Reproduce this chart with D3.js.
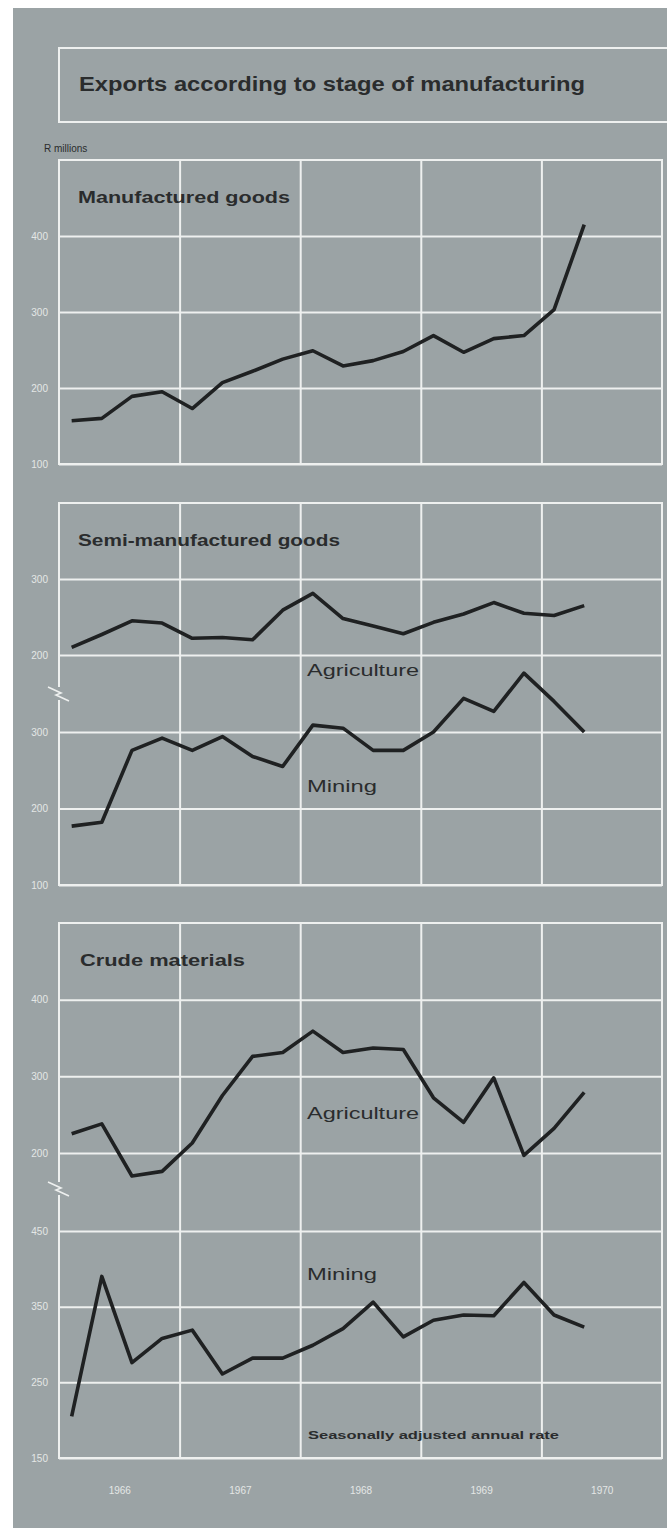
<!DOCTYPE html>
<html>
<head>
<meta charset="utf-8">
<script src="https://cdn.jsdelivr.net/npm/d3@7"></script>
<style>
  html, body { margin: 0; padding: 0; background: #ffffff; }
  svg { display: block; }
</style>
</head>
<body>
<svg id="chart" width="667" height="1528"></svg>
<script>
// ---------------- DATA ----------------
const years = [1966, 1967, 1968, 1969, 1970];
const quarters = ["1966 Q1","1966 Q2","1966 Q3","1966 Q4",
                  "1967 Q1","1967 Q2","1967 Q3","1967 Q4",
                  "1968 Q1","1968 Q2","1968 Q3","1968 Q4",
                  "1969 Q1","1969 Q2","1969 Q3","1969 Q4",
                  "1970 Q1","1970 Q2"];
const manufactured = [157,160,189,195,173,207,222,238,249,229,236,248,269,247,265,269,303,415];
const semiAgriculture = [210,227,245,242,222,223,220,259,281,248,238,228,243,254,269,255,252,265];
const semiMining = [177,182,276,292,276,294,268,255,309,305,276,276,300,344,327,377,340,300];
const crudeAgriculture = [225,238,170,176,213,275,326,331,359,331,337,335,272,240,298,197,232,279];
const crudeMining = [205,390,276,308,319,261,282,282,299,321,356,310,332,339,338,382,339,323];

const manufacturedTicks = [100, 200, 300, 400];
const semiAgricultureTicks = [200, 300];
const semiMiningTicks = [100, 200, 300];
const crudeAgricultureTicks = [200, 300, 400];
const crudeMiningTicks = [150, 250, 350, 450];

const titleText = "Exports according to stage of manufacturing";
const unitText = "R millions";
const panelTitles = ["Manufactured goods", "Semi-manufactured goods", "Crude materials"];
const seriesNames = ["Agriculture", "Mining"];
const noteText = "Seasonally adjusted annual rate";

// ---------------- LAYOUT ----------------
const W = 667, H = 1528;
const BG = "#9ba3a5", GRID = "#eef0ef", INK = "#1f2122", LABEL = "#e4e7e6";
const left = 59, right = 662;
const svg = d3.select("#chart");

svg.append("rect").attr("x", 13).attr("y", 8).attr("width", W - 13).attr("height", H - 8).attr("fill", BG);

const x = d3.scaleLinear().domain([years[0], years[years.length - 1] + 1]).range([left, right]);
const qx = s => x(+s.slice(0, 4) + (+s.slice(-1) - 0.58) / 4);

// title box
svg.append("rect").attr("x", left).attr("y", 48).attr("width", 700).attr("height", 74)
  .attr("fill", "none").attr("stroke", GRID).attr("stroke-width", 2);
svg.append("text").attr("x", 79).attr("y", 91)
  .attr("font-family", "'Liberation Sans', Arial, sans-serif").attr("font-weight", "bold")
  .attr("font-size", 20).attr("fill", "#2a2c2d")
  .attr("textLength", 506).attr("lengthAdjust", "spacingAndGlyphs")
  .text(titleText);
svg.append("text").attr("x", 44).attr("y", 152)
  .attr("font-family", "'Liberation Sans Narrow', 'Liberation Sans', Arial, sans-serif")
  .attr("font-size", 10).attr("fill", "#2a2c2d")
  .text(unitText);

const line = (yScale) => d3.line().x((d, i) => qx(quarters[i])).y(d => yScale(d)).curve(d3.curveLinear);

function drawGridY(g, yScale, ticks) {
  const ax = d3.axisLeft(yScale).tickValues(ticks).tickSizeInner(-(right - left)).tickSizeOuter(0).tickPadding(11)
    .tickFormat(d3.format("d"));
  const a = g.append("g").attr("transform", `translate(${left},0)`).call(ax);
  a.select(".domain").remove();
  a.selectAll(".tick line").attr("stroke", GRID).attr("stroke-width", 2);
  a.selectAll(".tick text")
    .attr("font-family", "'Liberation Sans Narrow', 'Liberation Sans', Arial, sans-serif")
    .attr("font-size", 10).attr("fill", LABEL);
}

function drawPanel(top, bottom, breakY) {
  const g = svg.append("g");
  const ax = d3.axisBottom(x).tickValues(years.slice(1)).tickSizeInner(-(bottom - top)).tickSizeOuter(0).tickFormat("");
  const a = g.append("g").attr("transform", `translate(0,${bottom})`).call(ax);
  a.select(".domain").remove();
  a.selectAll(".tick line").attr("stroke", GRID).attr("stroke-width", 2);
  const fr = g.append("g").attr("stroke", GRID).attr("stroke-width", 2).attr("fill", "none");
  fr.append("line").attr("x1", left).attr("x2", right + 1).attr("y1", top).attr("y2", top);
  fr.append("line").attr("x1", left).attr("x2", right + 1).attr("y1", bottom).attr("y2", bottom);
  fr.append("line").attr("x1", right).attr("x2", right).attr("y1", top).attr("y2", bottom);
  if (breakY == null) {
    fr.append("line").attr("x1", left).attr("x2", left).attr("y1", top - 1).attr("y2", bottom + 1);
  } else {
    fr.append("line").attr("x1", left).attr("x2", left).attr("y1", top - 1).attr("y2", breakY - 6);
    fr.append("line").attr("x1", left).attr("x2", left).attr("y1", breakY + 7).attr("y2", bottom + 1);
    fr.append("path").attr("stroke-width", 1.6)
      .attr("d", `M${left - 11},${breakY - 6} L${left + 2},${breakY} L${left - 3},${breakY + 2} L${left + 10},${breakY + 8}`);
  }
  return g;
}

const textFont = "'Liberation Sans', Arial, sans-serif";
function label(g, txt, xx, yy, size, len, weight) {
  g.append("text").attr("x", xx).attr("y", yy).attr("font-family", textFont)
    .attr("font-weight", weight || "bold").attr("font-size", size).attr("fill", "#2a2c2d")
    .attr("textLength", len).attr("lengthAdjust", "spacingAndGlyphs").text(txt);
}
function series(g, data, yScale) {
  g.append("path").datum(data).attr("d", line(yScale))
    .attr("fill", "none").attr("stroke", INK).attr("stroke-width", 3.6).attr("stroke-linejoin", "round");
}

// ---------- Panel 1 ----------
const y1 = d3.scaleLinear().domain([100, 500]).range([464, 160]);
const g1 = drawPanel(160, 464, null);
drawGridY(g1, y1, manufacturedTicks);
label(g1, panelTitles[0], 78, 203, 16, 212);
series(g1, manufactured, y1);

// ---------- Panel 2 ----------
const y2a = d3.scaleLinear().domain([200, 400]).range([655, 503]);
const y2m = d3.scaleLinear().domain([100, 300]).range([885, 732]);
const g2 = drawPanel(503, 885, 693);
drawGridY(g2, y2a, semiAgricultureTicks);
drawGridY(g2, y2m, semiMiningTicks);
label(g2, panelTitles[1], 78, 546, 16, 262);
label(g2, seriesNames[0], 307, 676, 16, 112, "normal");
label(g2, seriesNames[1], 307, 792, 16, 70, "normal");
series(g2, semiAgriculture, y2a);
series(g2, semiMining, y2m);

// ---------- Panel 3 ----------
const y3a = d3.scaleLinear().domain([200, 500]).range([1153, 923]);
const y3m = d3.scaleLinear().domain([150, 450]).range([1458, 1231]);
const g3 = drawPanel(923, 1458, 1188);
drawGridY(g3, y3a, crudeAgricultureTicks);
drawGridY(g3, y3m, crudeMiningTicks);
label(g3, panelTitles[2], 80, 966, 16, 165);
label(g3, seriesNames[0], 307, 1119, 16, 112, "normal");
label(g3, seriesNames[1], 307, 1280, 16, 70, "normal");
label(g3, noteText, 308, 1439, 11, 251);
series(g3, crudeAgriculture, y3a);
series(g3, crudeMining, y3m);

// ---------- Year labels ----------
const yx = d3.axisBottom(x).tickValues(years.map(d => d + 0.5)).tickSize(0).tickPadding(0)
  .tickFormat(d => String(Math.floor(d)));
const ya = svg.append("g").attr("transform", "translate(0,1494)").call(yx);
ya.select(".domain").remove();
ya.selectAll(".tick text").attr("dy", 0)
  .attr("font-family", "'Liberation Sans Narrow', 'Liberation Sans', Arial, sans-serif")
  .attr("font-size", 10).attr("fill", LABEL);
</script>
</body>
</html>
